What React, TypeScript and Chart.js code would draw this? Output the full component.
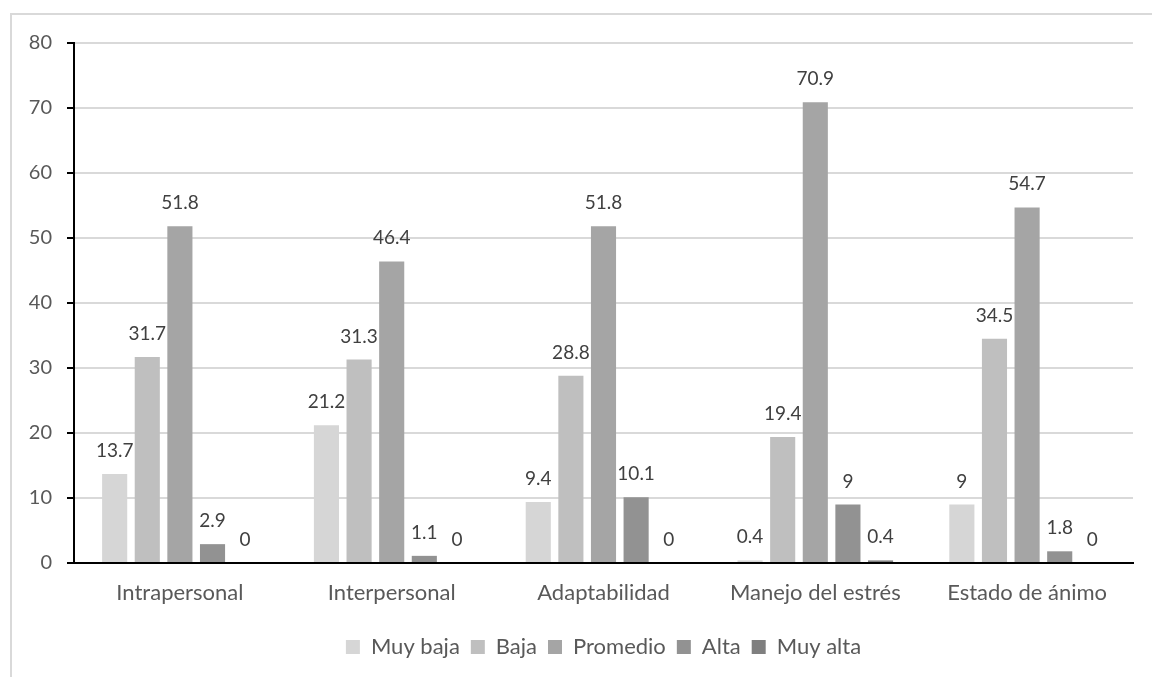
import React, { useEffect, useRef } from "react";
import { Chart, registerables } from "chart.js";

Chart.register(...registerables);

const categories = ["Intrapersonal", "Interpersonal", "Adaptabilidad", "Manejo del estrés", "Estado de ánimo"];
const seriesNames = ["Muy baja", "Baja", "Promedio", "Alta", "Muy alta"];
const muyBaja = [13.7, 21.2, 9.4, 0.4, 9];
const baja = [31.7, 31.3, 28.8, 19.4, 34.5];
const promedio = [51.8, 46.4, 51.8, 70.9, 54.7];
const alta = [2.9, 1.1, 10.1, 9, 1.8];
const muyAlta = [0, 0, 0, 0.4, 0];
const yTicks = [0, 10, 20, 30, 40, 50, 60, 70, 80];

const colors = ["#d6d6d6", "#bfbfbf", "#a5a5a5", "#929292", "#7f7f7f"];
const FONT = "Lato";

const frame = {
  id: "frame",
  beforeDraw(chart: any) {
    const ctx = chart.ctx;
    ctx.save();
    ctx.fillStyle = "#ffffff";
    ctx.fillRect(0, 0, chart.width, chart.height);
    ctx.strokeStyle = "#d9d9d9";
    ctx.lineWidth = 2;
    ctx.strokeRect(11, 14, 1300, 900);
    ctx.restore();
  },
};

const dataLabels = {
  id: "dataLabels",
  afterDatasetsDraw(chart: any) {
    const ctx = chart.ctx;
    ctx.save();
    ctx.font = `19px ${FONT}`;
    ctx.fillStyle = "#404040";
    ctx.textAlign = "center";
    ctx.textBaseline = "alphabetic";
    chart.data.datasets.forEach((ds: any, i: number) => {
      const meta = chart.getDatasetMeta(i);
      meta.data.forEach((bar: any, j: number) => {
        const v = ds.data[j];
        ctx.fillText(String(v), bar.x, bar.y - 17);
      });
    });
    ctx.restore();
  },
};

export default function App() {
  const ref = useRef<HTMLCanvasElement>(null);
  useEffect(() => {
    const all = [muyBaja, baja, promedio, alta, muyAlta];
    const chart = new Chart(ref.current!, {
      type: "bar",
      data: {
        labels: categories,
        datasets: all.map((d, i) => ({
          label: seriesNames[i],
          data: d,
          backgroundColor: colors[i],
          borderWidth: 0,
          categoryPercentage: 0.77,
          barPercentage: 0.77,
        })),
      },
      options: {
        animation: false,
        responsive: true,
        maintainAspectRatio: false,
        layout: { padding: { left: 0, right: 19, top: 43, bottom: 9 } },
        plugins: {
          tooltip: { enabled: false },
          legend: {
            position: "bottom",
            fullSize: false,
            labels: {
              font: { family: FONT, size: 22 },
              color: "#595959",
              boxWidth: 14,
              boxHeight: 14,
              padding: 11,
            },
          },
        },
        scales: {
          x: {
            grid: { display: false },
            border: { display: true, color: "#000000", width: 2 },
            ticks: { font: { family: FONT, size: 22 }, color: "#595959", padding: 9, maxRotation: 0 },
            afterFit(scale: any) {
              scale.height = 62;
            },
          },
          y: {
            min: 0,
            max: 80,
            afterBuildTicks(scale: any) {
              scale.ticks = yTicks.map((v) => ({ value: v }));
            },
            grid: { color: "#d9d9d9", lineWidth: 2, tickLength: 7, tickColor: "#000000", tickWidth: 2 },
            border: { display: true, color: "#000000", width: 2 },
            ticks: { font: { family: FONT, size: 20 }, color: "#595959", padding: 15 },
            afterFit(scale: any) {
              scale.width = 74;
            },
          },
        },
      },
      plugins: [frame, dataLabels],
    });
    return () => chart.destroy();
  }, []);
  return (
    <div style={{ position: "absolute", left: 0, top: 0, width: 1152, height: 677 }}>
      <canvas ref={ref} />
    </div>
  );
}
